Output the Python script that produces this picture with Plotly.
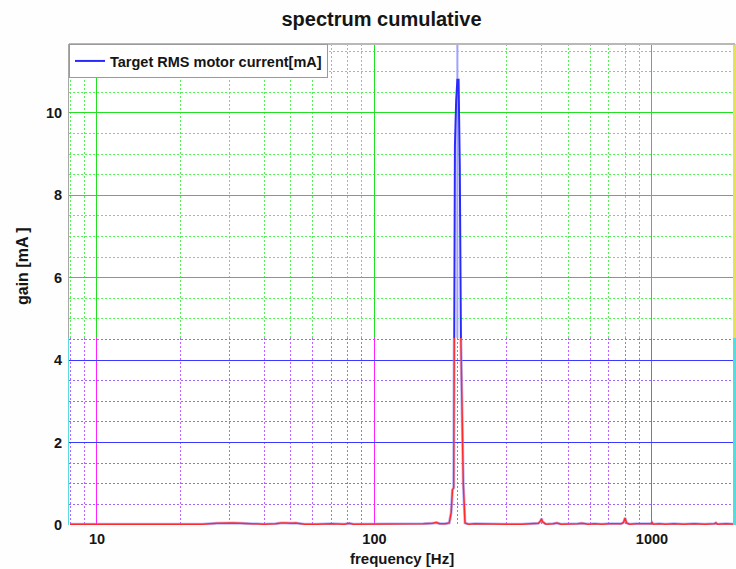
import numpy as np
import plotly.graph_objects as go
from plotly.subplots import make_subplots

# ---------------- data ----------------
freq_hz = [8, 12, 18, 24, 27, 29, 31, 33, 35, 40, 44, 46, 48, 50, 52, 56, 62, 70, 78, 81,
           84, 95, 110, 123, 135, 150, 162, 167, 172, 180, 186, 189, 191, 193, 195, 197,
           199, 201, 203, 205, 207, 209, 212, 218, 230, 260, 300, 340, 370, 390, 397, 400,
           403, 415, 440, 455, 470, 500, 520, 540, 560, 590, 620, 660, 700, 740, 775, 790,
           800, 810, 830, 880, 940, 990, 1000, 1010, 1060, 1120, 1200, 1300, 1420, 1550,
           1680, 1700, 1720, 1850, 2000]
gain_ma = [0.02, 0.02, 0.02, 0.02, 0.04, 0.05, 0.05, 0.04, 0.03, 0.02, 0.03, 0.05, 0.05, 0.04,
           0.05, 0.02, 0.02, 0.03, 0.02, 0.04, 0.02, 0.02, 0.02, 0.03, 0.02, 0.03, 0.04, 0.06,
           0.03, 0.03, 0.05, 0.30, 0.85, 0.90, 9.20, 10.3, 10.8, 10.8, 8.70, 4.40, 2.90, 1.00,
           0.05, 0.02, 0.03, 0.02, 0.02, 0.02, 0.03, 0.04, 0.10, 0.15, 0.08, 0.02, 0.03, 0.05,
           0.02, 0.02, 0.03, 0.03, 0.04, 0.02, 0.03, 0.02, 0.03, 0.02, 0.03, 0.06, 0.17, 0.05,
           0.02, 0.03, 0.02, 0.03, 0.06, 0.02, 0.03, 0.02, 0.03, 0.02, 0.03, 0.02, 0.03, 0.05,
           0.02, 0.03, 0.02]

series_name = "Target RMS motor current[mA]"
title_text = "spectrum cumulative"
x_title = "frequency [Hz]"
y_title = "gain [mA ]"
x_tickvals = [10, 100, 1000]
x_ticktext = ["10", "100", "1000"]
x_minor_ticks = [8, 9, 20, 30, 40, 50, 60, 70, 80, 90,
                 200, 300, 400, 500, 600, 700, 800, 900, 2000]
y_top_ticks = [6, 8, 10]
y_bot_ticks = [0, 2, 4]
x_range_hz = [7.93, 1992]
split_val = 4.54
y_max = 11.67

FONT = "Arial, Liberation Sans, sans-serif"
INK = "#151515"

W, H = 736, 569
ML, MR, MT, MB = 69, 1, 44, 44
PW, PH = W - ML - MR, H - MT - MB

fig = make_subplots(rows=2, cols=1, shared_xaxes=True, vertical_spacing=0,
                    row_heights=[y_max - split_val, split_val])

peak_f = freq_hz[int(np.argmax(gain_ma))]

# light blue cursor at peak (drawn first so it stays behind)
fig.add_trace(go.Scatter(x=[peak_f, peak_f], y=[split_val, y_max], mode="lines",
                         line=dict(color="#a0a0ff", width=2),
                         showlegend=False, hoverinfo="skip"), row=1, col=1)
# faint blue trace in lower region (behind red)
fig.add_trace(go.Scatter(x=freq_hz, y=gain_ma, mode="lines",
                         line=dict(color="rgba(140,140,255,0.6)", width=3),
                         showlegend=False, hoverinfo="skip"), row=2, col=1)
fig.add_trace(go.Scatter(x=freq_hz, y=gain_ma, mode="lines", name=series_name,
                         line=dict(color="#2a2aff", width=2)), row=1, col=1)
fig.add_trace(go.Scatter(x=freq_hz, y=gain_ma, mode="lines", showlegend=False,
                         line=dict(color="#ff2a2a", width=1.5)), row=2, col=1)

xr = [np.log10(x_range_hz[0]), np.log10(x_range_hz[1])]
tickfont = dict(family=FONT, size=14.5, color=INK, weight="bold")
DOT = "2px,2px"

# top subplot axes (green grid)
fig.update_xaxes(type="log", range=xr, row=1, col=1, showticklabels=False, ticks="",
                 showgrid=True, gridcolor="#22e022", gridwidth=1,
                 minor=dict(tickmode="array", tickvals=x_minor_ticks, showgrid=True,
                            gridcolor="#55f055", griddash=DOT, gridwidth=1, ticks=""),
                 tickmode="array", tickvals=x_tickvals, zeroline=False, showline=False,
                 automargin=False)
fig.update_yaxes(range=[split_val, y_max], row=1, col=1, tickvals=y_top_ticks,
                 tickfont=tickfont, ticklabelstandoff=3, automargin=False,
                 showgrid=True, gridcolor="#22e022", gridwidth=1,
                 minor=dict(dtick=0.5, tick0=0, showgrid=True, gridcolor="#55f055",
                            griddash=DOT, gridwidth=1, ticks=""),
                 zeroline=False, showline=True, linecolor="#a8a8a8", linewidth=1)

# bottom subplot axes (blue/magenta grid)
fig.update_xaxes(type="log", range=xr, row=2, col=1, tickmode="array",
                 tickvals=x_tickvals, ticktext=x_ticktext, tickfont=tickfont,
                 ticklabelstandoff=3, ticks="",
                 showgrid=True, gridcolor="#ff22ff", gridwidth=1, automargin=False,
                 minor=dict(tickmode="array", tickvals=x_minor_ticks, showgrid=True,
                            gridcolor="#c060ff", griddash=DOT, gridwidth=1, ticks=""),
                 zeroline=False, showline=False)
fig.update_yaxes(range=[0, split_val], row=2, col=1, tickvals=y_bot_ticks,
                 tickfont=tickfont, ticklabelstandoff=3, automargin=False,
                 showgrid=True, gridcolor="#3a3aff", gridwidth=1,
                 minor=dict(dtick=0.5, tick0=0, showgrid=True, gridcolor="#9a6aff",
                            griddash=DOT, gridwidth=1, ticks=""),
                 zeroline=False, showline=True, linecolor="#55dddd", linewidth=1)

# frame pieces
fig.add_shape(type="line", xref="x domain", yref="y domain", x0=1, x1=1, y0=0, y1=1,
              line=dict(color="#e6e060", width=4))
fig.add_shape(type="line", xref="x2 domain", yref="y2 domain", x0=1, x1=1, y0=0, y1=1,
              line=dict(color="#55dddd", width=4))
fig.add_shape(type="line", xref="x domain", yref="y domain", x0=0, x1=1, y0=1, y1=1,
              line=dict(color="#b8b8b8", width=2))

fig.update_layout(
    width=W, height=H,
    margin=dict(l=ML, r=MR, t=MT, b=MB, autoexpand=False),
    paper_bgcolor="#fefefe", plot_bgcolor="white",
    font=dict(family=FONT, color=INK),
    title=dict(text=title_text, x=381.5 / W, xref="container", xanchor="center",
               y=1 - 19 / H, yref="container", yanchor="middle",
               font=dict(family=FONT, size=20, color=INK, weight="bold")),
    showlegend=True,
    legend=dict(x=0, y=1, xanchor="left", yanchor="top", bgcolor="white",
                bordercolor="#9a9a9a", borderwidth=1,
                font=dict(family=FONT, size=14.5, color=INK, weight="bold"),
                tracegroupgap=0, itemwidth=30),
    annotations=[
        dict(text=x_title, xref="paper", yref="paper", x=0.5, y=-33 / PH,
             xanchor="center", yanchor="middle", showarrow=False,
             font=dict(family=FONT, size=15, color=INK, weight="bold")),
        dict(text=y_title, xref="paper", yref="paper", x=(22 - ML) / PW,
             y=(H - MB - 266) / PH,
             xanchor="center", yanchor="middle", showarrow=False, textangle=-90,
             font=dict(family=FONT, size=16, color=INK, weight="bold")),
    ],
)

# remove the page's default body margin so the figure sits at the window's top-left
fig.write_html("out.html",
               config={"displayModeBar": False},
               post_script="document.body.style.margin='0';"
                           "document.body.style.overflow='hidden';")
